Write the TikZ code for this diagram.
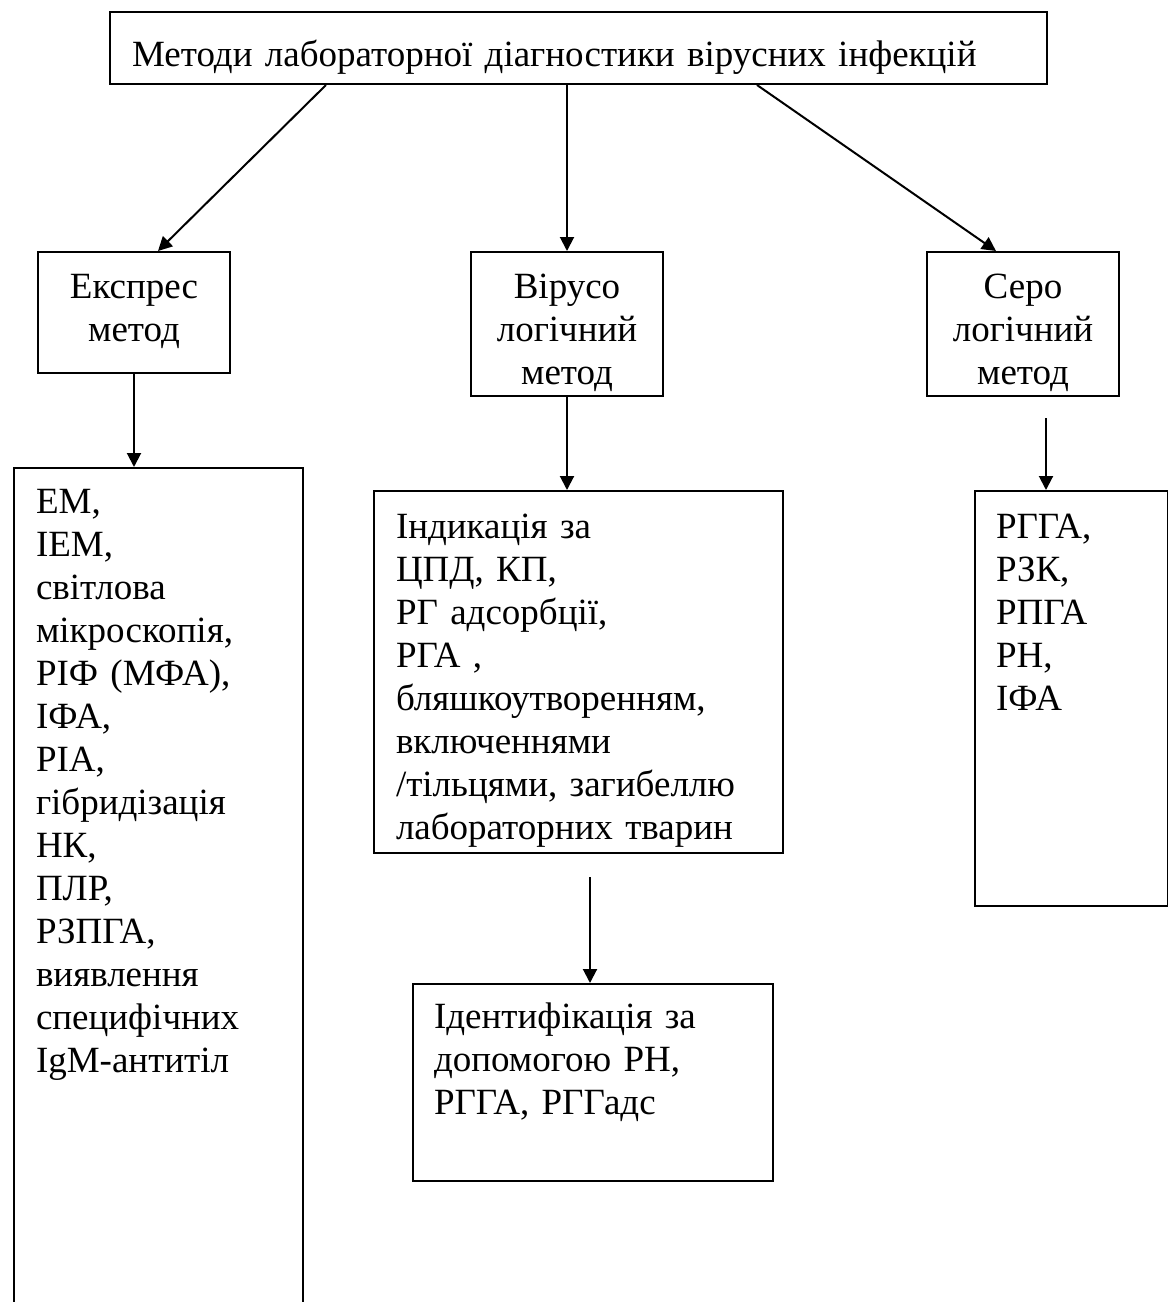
\documentclass[tikz,border=0pt]{standalone}
\usepackage{fontspec}
\setmainfont{Liberation Serif}
\usetikzlibrary{arrows.meta}
\begin{document}
\begin{tikzpicture}[x=0.5pt,y=-0.5pt,
  box/.style={draw, line width=1pt, anchor=north west, inner ysep=0pt,
    font=\fontsize{18.5}{21.5}\selectfont},
  arr/.style={line width=1pt, -{Triangle[length=7pt,width=7pt]}}]
% page frame
\useasboundingbox[fill=white] (0,0) rectangle (1168,1302);

% title
\node[box, align=left, inner xsep=11pt, text width=446.5pt, text height=27pt, text depth=9pt]
  (top) at (109,11) {Методи лабораторної діагностики вірусних інфекцій};

% three groups of methods
\node[box, align=center, inner xsep=4pt, text width=88pt, text height=23pt, text depth=37.5pt]
  (expres) at (37,251) {Експрес\\метод};
\node[box, align=center, inner xsep=4pt, text width=88pt, text height=23pt, text depth=49pt]
  (virus) at (470,251) {Вірусо\\логічний\\метод};
\node[box, align=center, inner xsep=4pt, text width=88pt, text height=23pt, text depth=49pt]
  (sero) at (926,251) {Серо\\логічний\\метод};

% details
\node[box, align=left, inner xsep=11pt, text width=122.5pt, text height=22.5pt, text depth=404pt]
  (em) at (13,467) {ЕМ,\\ІЕМ,\\світлова\\мікроскопія,\\РІФ (МФА),\\ІФА,\\РІА,\\гібридізація\\НК,\\ПЛР,\\РЗПГА,\\виявлення\\специфічних\\IgM-антитіл};
\node[box, align=left, inner xsep=11pt, text width=182.5pt, text height=23.5pt, text depth=157.5pt]
  (ind) at (373,490) {Індикація за\\ЦПД, КП,\\РГ адсорбції,\\РГА ,\\бляшкоутворенням,\\включеннями\\/тільцями, загибеллю\\лабораторних тварин};
\node[box, align=left, inner xsep=10.5pt, text width=159pt, text height=22pt, text depth=76.5pt]
  (ident) at (412,983) {Ідентифікація за\\допомогою РН,\\РГГА, РГГадс};
\node[box, align=left, inner xsep=10.5pt, text width=75.5pt, text height=23.5pt, text depth=184pt]
  (rgga) at (974,490) {РГГА,\\РЗК,\\РПГА\\РН,\\ІФА};

% connectors
\coordinate (c6) at (590,877);
\coordinate (c7) at (1046,418);
\draw[arr] ([xshift=108.5pt]top.south west) -- ([xshift=60.5pt]expres.north west);
\draw[arr] (top.south -| virus.north) -- (virus.north);
\draw[arr] ([xshift=324pt]top.south west) -- ([xshift=35pt]sero.north west);
\draw[arr] (expres.south) -- (expres.south |- em.north);
\draw[arr] (virus.south) -- (virus.south |- ind.north);
\draw[arr] (c6) -- (c6 |- ident.north);
\draw[arr] (c7) -- (c7 |- rgga.north);
\end{tikzpicture}
\end{document}
